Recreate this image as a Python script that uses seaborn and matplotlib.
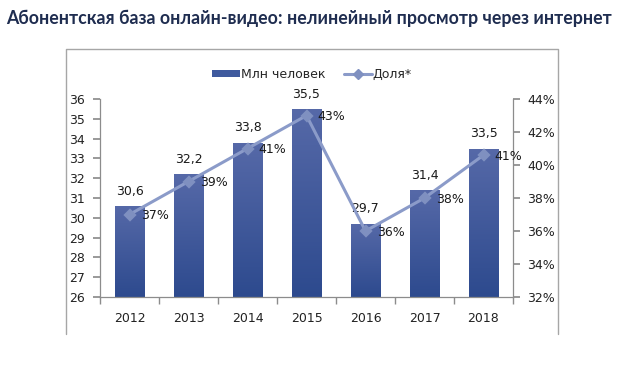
import numpy as np
import pandas as pd
import matplotlib
matplotlib.use("Agg")
import matplotlib.pyplot as plt
from matplotlib.lines import Line2D
from matplotlib.patches import Patch
from matplotlib.colors import LinearSegmentedColormap
import seaborn as sns

years = ["2012", "2013", "2014", "2015", "2016", "2017", "2018"]
users_mln = [30.6, 32.2, 33.8, 35.5, 29.7, 31.4, 33.5]
user_labels = ["30,6", "32,2", "33,8", "35,5", "29,7", "31,4", "33,5"]
share_pct = [37, 39, 41, 43, 36, 38, 40.6]
share_labels = ["37%", "39%", "41%", "43%", "36%", "38%", "41%"]
title = "Абонентская база онлайн-видео: нелинейный просмотр через интернет"
bar_name = "Млн человек"
line_name = "Доля*"

sns.set_theme(style="white")
plt.rcParams["font.family"] = ["DejaVu Sans"]

W, H = 629, 367
fig = plt.figure(figsize=(W / 100, H / 100), dpi=100)
ax = fig.add_axes([100 / W, 1 - 297 / H, (513 - 100) / W, (297 - 99) / H])

df = pd.DataFrame({"year": years, "users": users_mln})
sns.barplot(data=df, x="year", y="users", ax=ax, width=0.5, color="#3F5A9E",
            saturation=1, zorder=2)
ax.set_ylim(26, 36)
ax.set_yticks(np.arange(26, 37, 1))
ax.set_xlabel("")
ax.set_ylabel("")

# gradient fill of the bars
cmap = LinearSegmentedColormap.from_list("g", ["#2D4A8E", "#5669A8"])
grad = np.linspace(0, 1, 256).reshape(-1, 1)
for p in ax.patches:
    x0, y0 = p.get_x(), p.get_y()
    w, h = p.get_width(), p.get_height()
    im = ax.imshow(grad, cmap=cmap, aspect="auto", origin="lower",
                   extent=[x0, x0 + w, 26, y0 + h], zorder=2.1)
    im.set_clip_path(p)
ax.set_xlim(-0.5, len(years) - 0.5)
ax.set_ylim(26, 36)

for i, p in enumerate(ax.patches):
    ax.annotate(user_labels[i], (p.get_x() + p.get_width() / 2, p.get_height()),
                xytext=(0, 6), textcoords="offset points", ha="center",
                va="bottom", fontsize=9, color="#1a1a1a")

ax2 = ax.twinx()
sns.pointplot(x=years, y=share_pct, ax=ax2, color="#8B9BC9", markers="D",
              linestyles="-", linewidth=2.2, markersize=5)
for l in ax2.lines:
    l.set_markerfacecolor("#7F90C0")
    l.set_markeredgecolor("#7F90C0")
    l.set_zorder(3)
ax2.set_ylim(32, 44)
ax2.set_yticks(np.arange(32, 45, 2))
ax2.set_yticklabels([f"{v}%" for v in range(32, 45, 2)])
ax2.set_xlim(-0.5, len(years) - 0.5)
ax2.set_ylabel("")
for i, v in enumerate(share_pct):
    ax2.annotate(share_labels[i], (i, v), xytext=(8, -1), textcoords="offset points",
                 ha="left", va="center", fontsize=9, color="#1a1a1a")

gray = "#8C8C8C"
for a in (ax, ax2):
    for s in a.spines.values():
        s.set_visible(False)
    a.grid(False)
    a.set_facecolor("none")
ax.spines["left"].set_visible(True)
ax.spines["bottom"].set_visible(True)
ax2.spines["right"].set_visible(True)
for s in (ax.spines["left"], ax.spines["bottom"], ax2.spines["right"]):
    s.set_color(gray)
    s.set_linewidth(0.9)

ax.set_xticks(range(len(years)))
ax.set_xticklabels(years)
ax.set_xticks(np.arange(-0.5, len(years), 1), minor=True)
ax.tick_params(axis="x", which="major", length=0, pad=11, labelsize=9, colors="#222222")
ax.tick_params(axis="x", which="minor", length=5, color=gray, direction="out", bottom=True)
ax.tick_params(axis="y", length=5, color=gray, direction="out", left=True, labelsize=9,
               pad=6)
for t in ax.get_yticklabels():
    t.set_color("#222222")
ax2.tick_params(axis="y", length=5, color=gray, direction="out", right=True, labelsize=9, pad=5)
for t in ax2.get_yticklabels():
    t.set_color("#222222")

# legend
handles = [Patch(facecolor="#3F5A9E", edgecolor="none"),
           Line2D([], [], color="#8B9BC9", lw=2.2, marker="D", markersize=5,
                  markerfacecolor="#7F90C0", markeredgecolor="#7F90C0")]
fig.legend(handles, [bar_name, line_name], loc="center", bbox_to_anchor=(312 / W, 1 - 74 / H),
           ncol=2, frameon=False, fontsize=9, handlelength=2.2, handleheight=0.5,
           columnspacing=1.5, handletextpad=0.1)

# outer frame (left, top, right)
fx0, fx1, fy0, fy1 = 66 / W, 558 / W, 1 - 334 / H, 1 - 49 / H
fig.add_artist(Line2D([fx0, fx0, fx1, fx1], [fy0, fy1, fy1, fy0], color="#A6A6A6",
                      lw=1, transform=fig.transFigure))

# title fitted to the reference width
t = fig.text(309 / W, 1 - 18 / H, title, ha="center", va="center", fontsize=12,
             fontweight="bold", color="#1F2D50", family=["Lato", "DejaVu Sans"])
r = fig.canvas.get_renderer()
for _ in range(3):
    wpx = t.get_window_extent(r).width
    t.set_fontsize(t.get_fontsize() * 600 / wpx)

fig.savefig("out.png", dpi=100)
